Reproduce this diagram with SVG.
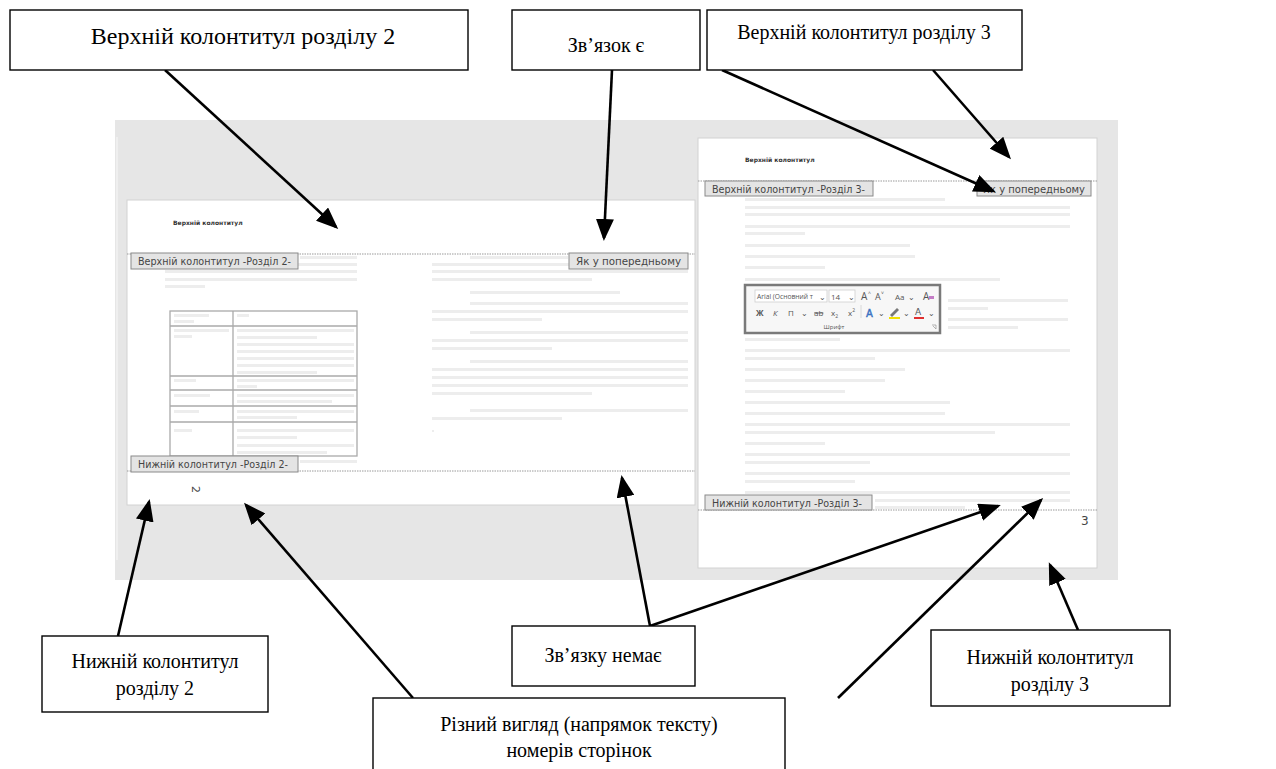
<svg xmlns="http://www.w3.org/2000/svg" width="1276" height="769" viewBox="0 0 1276 769">
<style>
.box{fill:#fff;stroke:#000;stroke-width:1.4}
.lbl{font-family:"Liberation Serif","Times New Roman",serif;font-size:20px;fill:#000;text-anchor:middle}
.big{font-size:24px}
.page{fill:#fff;stroke:#d2d2d2;stroke-width:1}
.dot{stroke:#9a9a9a;stroke-width:1;stroke-dasharray:1.5 1}
.tab{fill:#e4e4e4;stroke:#8a8a8a;stroke-width:1}
.tabt{font-family:"DejaVu Sans",sans-serif;font-size:10.5px;fill:#444}
.hdr{font-family:"DejaVu Sans",sans-serif;font-size:6px;font-weight:bold;fill:#333}
.ft{fill:#ededed}
.tbl{fill:none;stroke:#aaa;stroke-width:1.3}
.arr{stroke:#000;stroke-width:2.6;fill:none;marker-end:url(#ah)}
.pt{font-family:"Open Sans",sans-serif;fill:#555}
.pnum{font-family:"DejaVu Sans",sans-serif;fill:#444}
</style>
<defs>
<marker id="ah" viewBox="0 0 22 18" refX="19" refY="9" markerWidth="22" markerHeight="18" markerUnits="userSpaceOnUse" orient="auto">
<path d="M0,0 L22,9 L0,18 z" fill="#000"/>
</marker>
</defs>

<g id="screenshot">
<rect x="115" y="120" width="1003" height="460" fill="#e6e6e6"/>
<line x1="117" y1="137" x2="117" y2="560" stroke="#f2f2f2" stroke-width="1.5"/>
</g>

<g id="page2">
<rect class="page" x="127" y="200" width="568" height="305"/>
<text class="hdr" x="173" y="225">Верхній колонтитул</text>
<line class="dot" x1="127" y1="254" x2="695" y2="254"/>
<line class="dot" x1="127" y1="471" x2="695" y2="471"/>
<g id="page2-text">
<rect class="ft" x="300" y="256" width="57" height="3"/>
<rect class="ft" x="232" y="263" width="125" height="3"/>
<rect class="ft" x="165" y="270" width="192" height="3"/>
<rect class="ft" x="165" y="278" width="192" height="3"/>
<rect class="ft" x="165" y="285" width="40" height="3"/>
<rect class="ft" x="300" y="460" width="57" height="3"/>
<rect class="ft" x="470" y="256" width="98" height="3"/>
<rect class="ft" x="432" y="263" width="256" height="3"/>
<rect class="ft" x="432" y="270" width="256" height="3"/>
<rect class="ft" x="432" y="278" width="160" height="3"/>
<rect class="ft" x="470" y="291" width="150" height="3"/>
<rect class="ft" x="470" y="302" width="218" height="3"/>
<rect class="ft" x="432" y="310" width="256" height="3"/>
<rect class="ft" x="432" y="318" width="110" height="3"/>
<rect class="ft" x="470" y="331" width="218" height="3"/>
<rect class="ft" x="432" y="339" width="256" height="3"/>
<rect class="ft" x="432" y="347" width="120" height="3"/>
<rect class="ft" x="470" y="360" width="218" height="3"/>
<rect class="ft" x="432" y="368" width="256" height="3"/>
<rect class="ft" x="432" y="376" width="256" height="3"/>
<rect class="ft" x="432" y="384" width="256" height="3"/>
<rect class="ft" x="432" y="392" width="160" height="3"/>
<rect class="ft" x="470" y="409" width="218" height="3"/>
<rect class="ft" x="432" y="417" width="130" height="3"/>
<rect class="ft" x="432" y="430" width="2" height="2"/>
</g>
<g id="table2">
<rect class="tbl" x="170" y="311" width="187" height="145"/>
<line class="tbl" x1="233" y1="311" x2="233" y2="456"/>
<line class="tbl" x1="170" y1="326" x2="357" y2="326"/>
<line class="tbl" x1="170" y1="376" x2="357" y2="376"/>
<line class="tbl" x1="170" y1="390" x2="357" y2="390"/>
<line class="tbl" x1="170" y1="406" x2="357" y2="406"/>
<line class="tbl" x1="170" y1="422" x2="357" y2="422"/>
<rect class="ft" x="174" y="314" width="35" height="3"/>
<rect class="ft" x="174" y="320" width="20" height="3"/>
<rect class="ft" x="237" y="314" width="12" height="3"/>
<rect class="ft" x="174" y="329" width="55" height="3"/>
<rect class="ft" x="174" y="335" width="18" height="3"/>
<rect class="ft" x="237" y="329" width="117" height="3"/>
<rect class="ft" x="237" y="336" width="80" height="3"/>
<rect class="ft" x="237" y="343" width="117" height="3"/>
<rect class="ft" x="237" y="350" width="117" height="3"/>
<rect class="ft" x="237" y="357" width="117" height="3"/>
<rect class="ft" x="237" y="364" width="117" height="3"/>
<rect class="ft" x="237" y="371" width="80" height="3"/>
<rect class="ft" x="174" y="379" width="22" height="3"/>
<rect class="ft" x="237" y="379" width="117" height="3"/>
<rect class="ft" x="237" y="385" width="20" height="3"/>
<rect class="ft" x="174" y="394" width="36" height="3"/>
<rect class="ft" x="237" y="394" width="117" height="3"/>
<rect class="ft" x="237" y="400" width="95" height="3"/>
<rect class="ft" x="174" y="410" width="25" height="3"/>
<rect class="ft" x="237" y="410" width="117" height="3"/>
<rect class="ft" x="237" y="416" width="60" height="3"/>
<rect class="ft" x="174" y="429" width="18" height="3"/>
<rect class="ft" x="237" y="429" width="117" height="3"/>
<rect class="ft" x="237" y="436" width="60" height="3"/>
<rect class="ft" x="237" y="444" width="117" height="3"/>
<rect class="ft" x="237" y="451" width="90" height="3"/>
</g>
<rect class="tab" x="131" y="253" width="167" height="16"/>
<text class="tabt" x="138" y="265" textLength="153" lengthAdjust="spacingAndGlyphs">Верхній колонтитул -Розділ 2-</text>
<rect class="tab" x="569" y="253" width="119" height="16"/>
<text class="tabt" x="576" y="265" textLength="105" lengthAdjust="spacingAndGlyphs">Як у попередньому</text>
<rect class="tab" x="131" y="456" width="167" height="16"/>
<text class="tabt" x="138" y="468" textLength="150" lengthAdjust="spacingAndGlyphs">Нижній колонтитул -Розділ 2-</text>
<text class="pnum" style="font-size:11px" x="0" y="0" transform="translate(192,486) rotate(90)">2</text>
</g>

<g id="page3">
<rect class="page" x="698" y="138" width="399" height="430"/>
<text class="hdr" x="745" y="162">Верхній колонтитул</text>
<line class="dot" x1="698" y1="181" x2="1097" y2="181"/>
<line class="dot" x1="698" y1="510" x2="1097" y2="510"/>
<g id="page3-text">
<rect class="ft" x="745" y="198" width="200" height="3"/>
<rect class="ft" x="745" y="206" width="325" height="3"/>
<rect class="ft" x="745" y="213" width="325" height="3"/>
<rect class="ft" x="745" y="225" width="325" height="3"/>
<rect class="ft" x="745" y="232" width="60" height="3"/>
<rect class="ft" x="745" y="244" width="165" height="3"/>
<rect class="ft" x="745" y="255" width="170" height="3"/>
<rect class="ft" x="745" y="266" width="80" height="3"/>
<rect class="ft" x="745" y="278" width="255" height="3"/>
<rect class="ft" x="948" y="299" width="120" height="3"/>
<rect class="ft" x="948" y="307" width="40" height="3"/>
<rect class="ft" x="948" y="318" width="120" height="3"/>
<rect class="ft" x="948" y="326" width="70" height="3"/>
<rect class="ft" x="745" y="338" width="95" height="3"/>
<rect class="ft" x="745" y="349" width="325" height="3"/>
<rect class="ft" x="745" y="357" width="130" height="3"/>
<rect class="ft" x="745" y="368" width="160" height="3"/>
<rect class="ft" x="745" y="379" width="140" height="3"/>
<rect class="ft" x="745" y="390" width="100" height="3"/>
<rect class="ft" x="745" y="401" width="205" height="3"/>
<rect class="ft" x="745" y="412" width="200" height="3"/>
<rect class="ft" x="745" y="423" width="325" height="3"/>
<rect class="ft" x="745" y="431" width="250" height="3"/>
<rect class="ft" x="745" y="442" width="80" height="3"/>
<rect class="ft" x="745" y="453" width="325" height="3"/>
<rect class="ft" x="745" y="461" width="125" height="3"/>
<rect class="ft" x="745" y="472" width="325" height="3"/>
<rect class="ft" x="745" y="480" width="110" height="3"/>
<rect class="ft" x="745" y="491" width="325" height="3"/>
<rect class="ft" x="875" y="499" width="195" height="3"/>
<rect class="ft" x="875" y="506" width="90" height="3"/>
</g>
<g id="font-panel">
<rect x="745" y="285" width="195" height="48" fill="#f7f7f7" stroke="#7a7a7a" stroke-width="2.5"/>
<rect x="755" y="290" width="72" height="12" fill="#fff" stroke="#cfcfcf" stroke-width="0.8"/>
<text class="pt" style="font-size:7px" x="757" y="299" textLength="56" lengthAdjust="spacingAndGlyphs">Arial (Основний т</text>
<text class="pt" style="font-size:8px" x="819" y="299.5">⌄</text>
<rect x="829" y="290" width="26" height="12" fill="#fff" stroke="#cfcfcf" stroke-width="0.8"/>
<text class="pt" style="font-size:8px" x="831" y="299.5">14</text>
<text class="pt" style="font-size:8px" x="848" y="299.5">⌄</text>
<text class="pt" style="font-size:10px" x="861" y="300">A</text>
<text class="pt" style="font-size:5px" x="868" y="295">^</text>
<text class="pt" style="font-size:9px" x="875" y="300">A</text>
<text class="pt" style="font-size:5px" x="881" y="295">˅</text>
<text class="pt" style="font-size:8px" x="895" y="300">Aa</text>
<text class="pt" style="font-size:8px" x="908" y="299.5">⌄</text>
<text class="pt" style="font-size:10px" x="923" y="300">A</text>
<rect x="929" y="296" width="5" height="3" fill="#c47cc6"/>
<text class="pt" style="font-size:8px;font-weight:bold" x="756" y="316">Ж</text>
<text class="pt" style="font-size:8px;font-style:italic" x="773" y="316">К</text>
<text class="pt" style="font-size:8px" x="788" y="316">П</text>
<text class="pt" style="font-size:8px" x="801" y="316">⌄</text>
<text class="pt" style="font-size:8px;text-decoration:line-through" x="814" y="316">ab</text>
<text class="pt" style="font-size:8px" x="831" y="316">x<tspan style="font-size:5px" dy="2">2</tspan></text>
<text class="pt" style="font-size:8px" x="848" y="316">x<tspan style="font-size:5px" dy="-4">2</tspan></text>
<line x1="861" y1="305" x2="861" y2="318" stroke="#d0d0d0" stroke-width="0.8"/>
<text x="866" y="317" font-family="DejaVu Sans,sans-serif" font-size="10" fill="#4a86d8" stroke="#2a5fb0" stroke-width="0.4">A</text>
<text class="pt" style="font-size:8px" x="878" y="316">⌄</text>
<path d="M890,315 L897,308 L899,310 L892,317 Z" fill="#777"/>
<rect x="889" y="317" width="11" height="2" fill="#f2e000"/>
<text class="pt" style="font-size:8px" x="903" y="316">⌄</text>
<text x="915" y="315" font-family="DejaVu Sans,sans-serif" font-size="9" fill="#555">A</text>
<rect x="914" y="317" width="10" height="2" fill="#e03030"/>
<text class="pt" style="font-size:8px" x="928" y="316">⌄</text>
<text class="pt" style="font-size:6px" x="834" y="329" text-anchor="middle">Шрифт</text>
<path d="M932,325 h4 v4 M933,326 l3,3" fill="none" stroke="#888" stroke-width="0.6"/>
</g>
<rect class="tab" x="705" y="181" width="168" height="15"/>
<text class="tabt" x="712" y="192.5" textLength="153" lengthAdjust="spacingAndGlyphs">Верхній колонтитул -Розділ 3-</text>
<rect class="tab" x="977" y="181" width="114" height="15"/>
<text class="tabt" x="983" y="192.5" textLength="102" lengthAdjust="spacingAndGlyphs">Як у попередньому</text>
<rect class="tab" x="705" y="495" width="167" height="15"/>
<text class="tabt" x="712" y="506.5" textLength="150" lengthAdjust="spacingAndGlyphs">Нижній колонтитул -Розділ 3-</text>
<text class="pnum" style="font-size:12px" x="1081" y="525">3</text>
</g>

<g id="connectors">
<line class="arr" x1="165" y1="70" x2="336" y2="227"/>
<line class="arr" x1="612" y1="70" x2="604" y2="238"/>
<line class="arr" x1="722" y1="70" x2="993" y2="191"/>
<line class="arr" x1="933" y1="70" x2="1009" y2="157"/>
<line class="arr" x1="118" y1="636" x2="149" y2="502"/>
<line class="arr" x1="413" y1="698" x2="246" y2="505"/>
<line class="arr" x1="650" y1="626" x2="622" y2="478"/>
<line class="arr" x1="650" y1="626" x2="998" y2="506"/>
<line class="arr" x1="838" y1="698" x2="1041" y2="500"/>
<line class="arr" x1="1078" y1="630" x2="1050" y2="565"/>
</g>

<g id="n-header2">
<rect class="box" x="10" y="10" width="458" height="60"/>
<text class="lbl big" x="243" y="44">Верхній колонтитул розділу 2</text>
</g>
<g id="n-link-yes">
<rect class="box" x="512" y="10" width="188" height="60"/>
<text class="lbl" x="606" y="52">Зв’язок є</text>
</g>
<g id="n-header3">
<rect class="box" x="707" y="10" width="315" height="60"/>
<text class="lbl" x="864" y="39">Верхній колонтитул розділу 3</text>
</g>
<g id="n-footer2">
<rect class="box" x="42" y="636" width="226" height="76"/>
<text class="lbl" x="155" y="668">Нижній колонтитул</text>
<text class="lbl" x="155" y="695">розділу 2</text>
</g>
<g id="n-link-no">
<rect class="box" x="512" y="626" width="183" height="60"/>
<text class="lbl" x="603" y="662">Зв’язку немає</text>
</g>
<g id="n-footer3">
<rect class="box" x="931" y="630" width="239" height="76"/>
<text class="lbl" x="1050" y="664">Нижній колонтитул</text>
<text class="lbl" x="1050" y="691">розділу 3</text>
</g>
<g id="n-pagenum">
<rect class="box" x="373" y="698" width="412" height="80"/>
<text class="lbl" x="579" y="731">Різний вигляд (напрямок тексту)</text>
<text class="lbl" x="579" y="757">номерів сторінок</text>
</g>
</svg>
